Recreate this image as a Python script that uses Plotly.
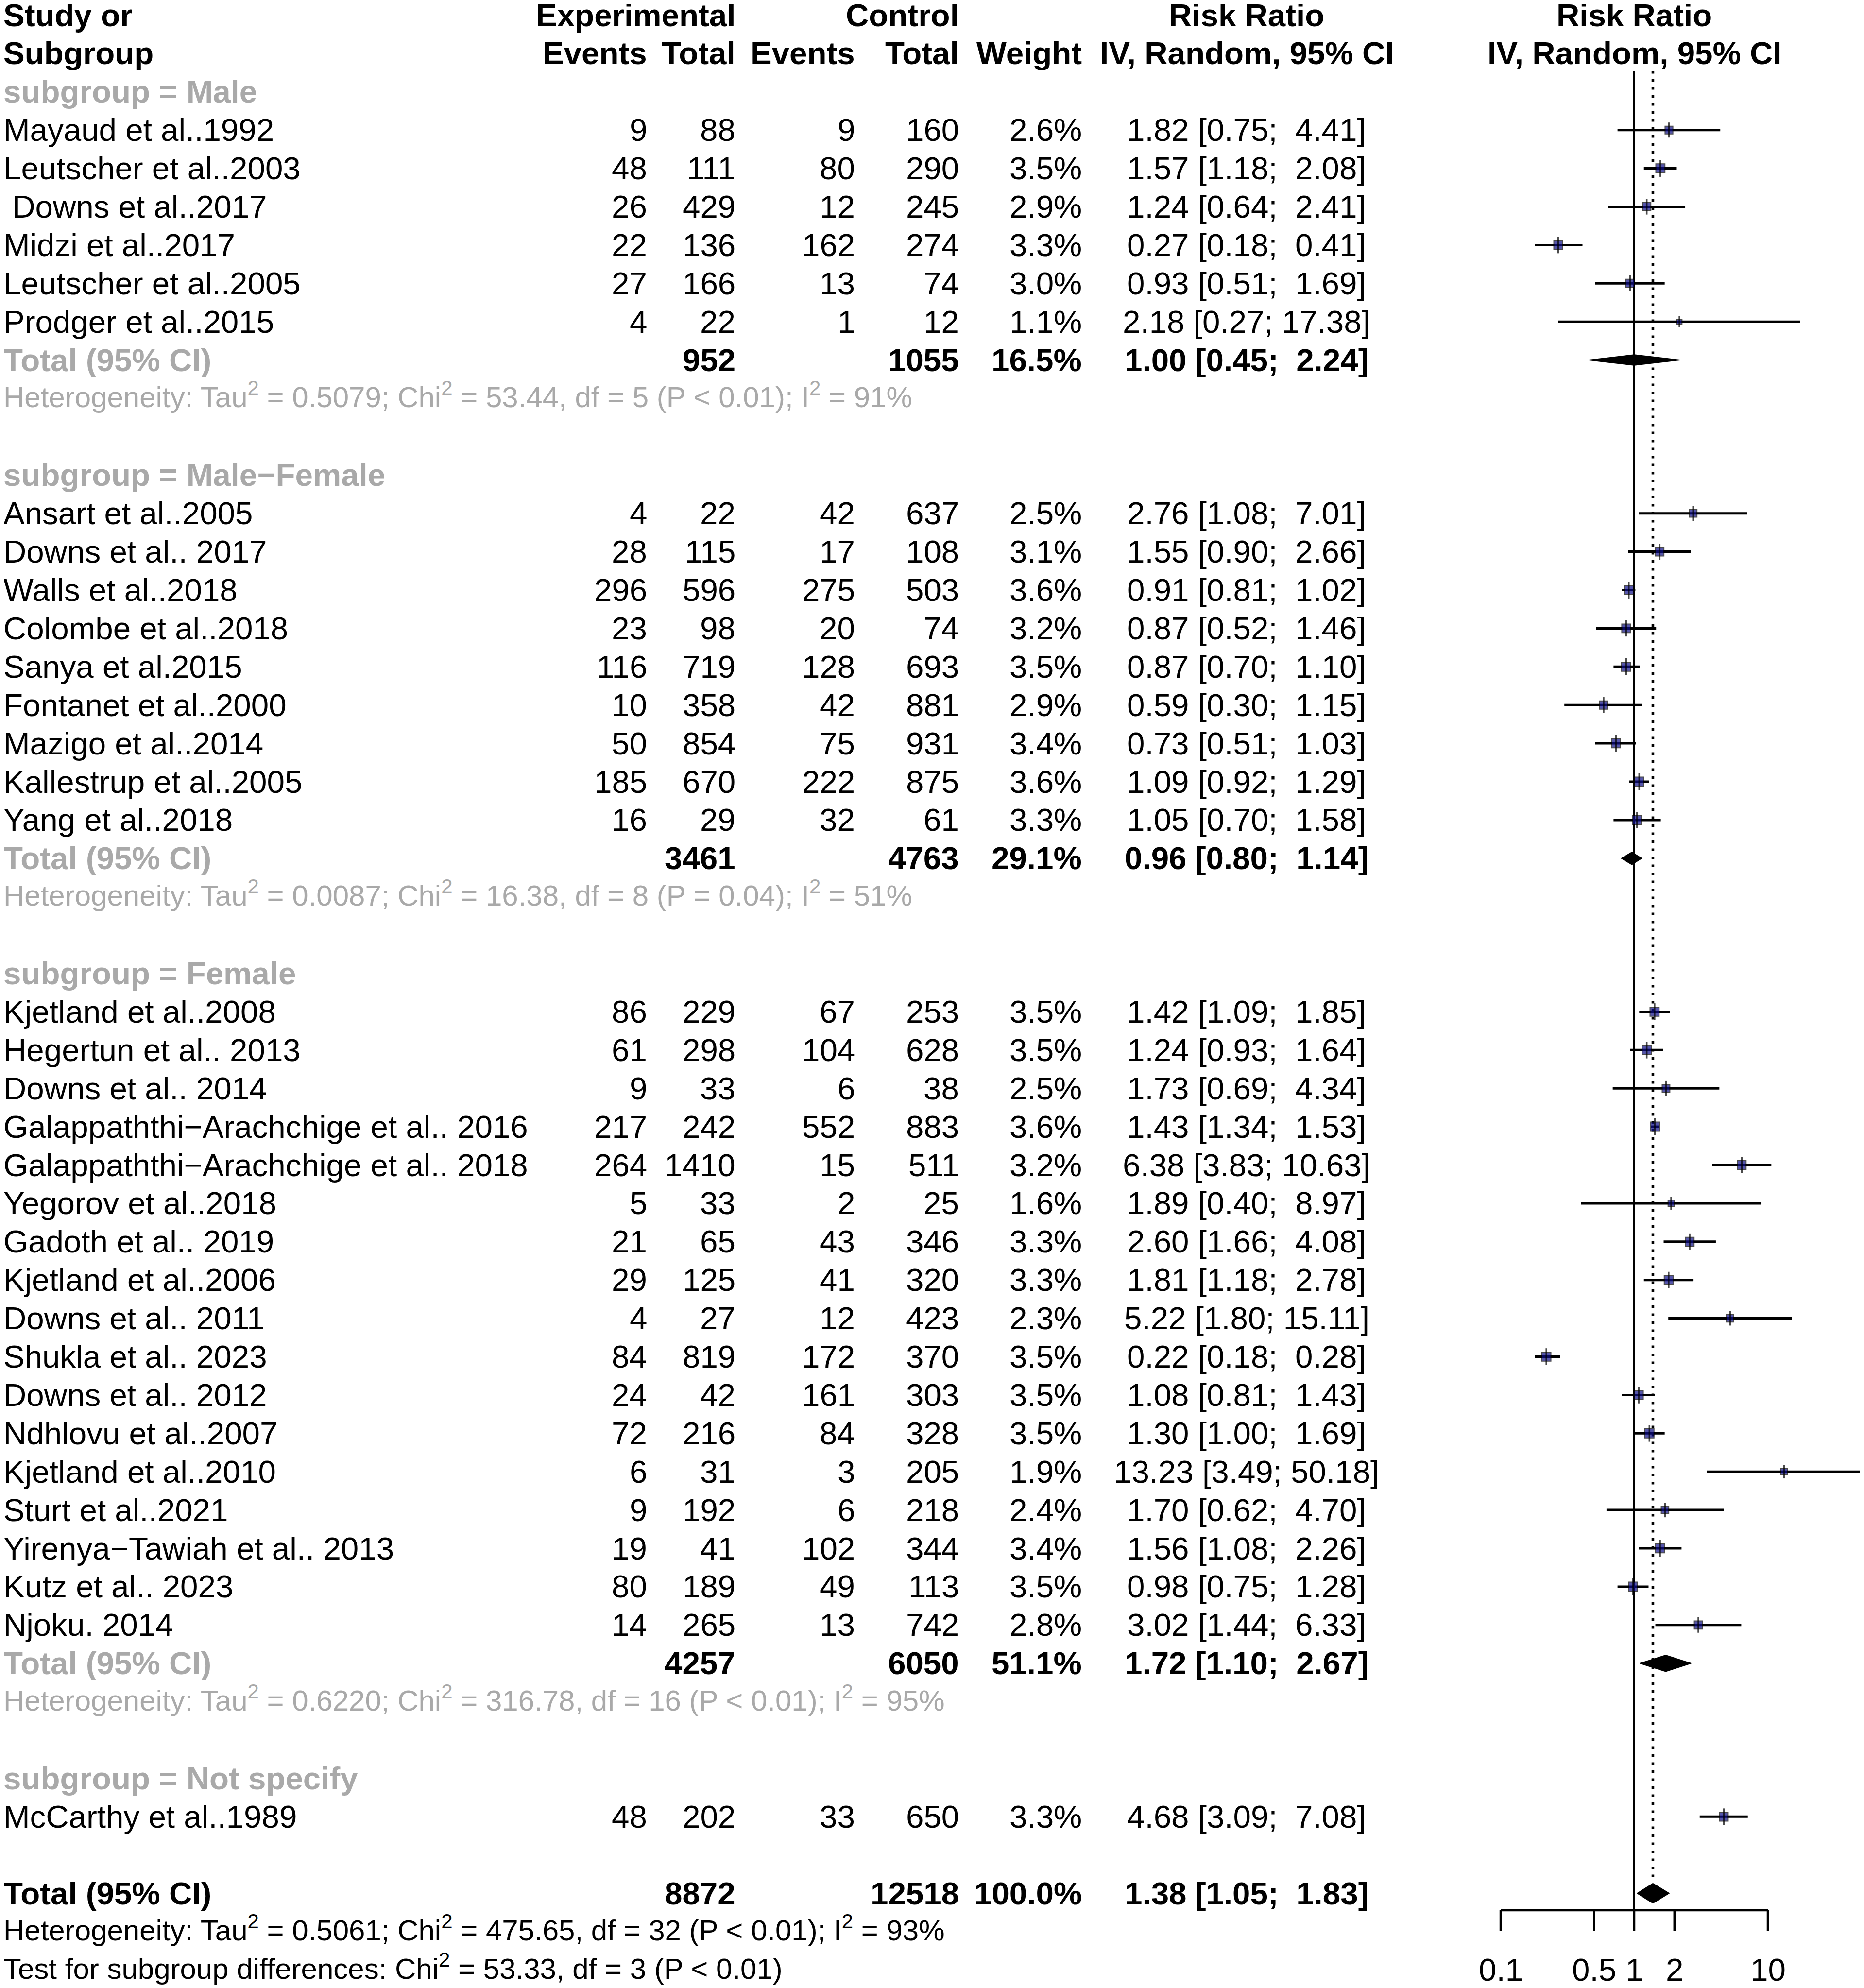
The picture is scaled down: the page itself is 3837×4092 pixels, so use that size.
import numpy as np
import plotly.graph_objects as go

# ---------------- data ----------------
male_study = ["Mayaud et al..1992", "Leutscher et al..2003", "\u00a0Downs et al..2017", "Midzi et al..2017",
              "Leutscher et al..2005", "Prodger et al..2015"]
male_ee = [9, 48, 26, 22, 27, 4]
male_et = [88, 111, 429, 136, 166, 22]
male_ce = [9, 80, 12, 162, 13, 1]
male_ct = [160, 290, 245, 274, 74, 12]
male_w = [2.6, 3.5, 2.9, 3.3, 3.0, 1.1]
male_rr = [1.82, 1.57, 1.24, 0.27, 0.93, 2.18]
male_lo = [0.75, 1.18, 0.64, 0.18, 0.51, 0.27]
male_hi = [4.41, 2.08, 2.41, 0.41, 1.69, 17.38]
male_total = [952, 1055, 16.5, 1.00, 0.45, 2.24]
male_het = ["0.5079", "53.44", 5, "P &lt; 0.01", 91]

mf_study = ["Ansart et al..2005", "Downs et al.. 2017", "Walls et al..2018", "Colombe et al..2018",
            "Sanya et al.2015", "Fontanet et al..2000", "Mazigo et al..2014", "Kallestrup et al..2005",
            "Yang et al..2018"]
mf_ee = [4, 28, 296, 23, 116, 10, 50, 185, 16]
mf_et = [22, 115, 596, 98, 719, 358, 854, 670, 29]
mf_ce = [42, 17, 275, 20, 128, 42, 75, 222, 32]
mf_ct = [637, 108, 503, 74, 693, 881, 931, 875, 61]
mf_w = [2.5, 3.1, 3.6, 3.2, 3.5, 2.9, 3.4, 3.6, 3.3]
mf_rr = [2.76, 1.55, 0.91, 0.87, 0.87, 0.59, 0.73, 1.09, 1.05]
mf_lo = [1.08, 0.90, 0.81, 0.52, 0.70, 0.30, 0.51, 0.92, 0.70]
mf_hi = [7.01, 2.66, 1.02, 1.46, 1.10, 1.15, 1.03, 1.29, 1.58]
mf_total = [3461, 4763, 29.1, 0.96, 0.80, 1.14]
mf_het = ["0.0087", "16.38", 8, "P = 0.04", 51]

fem_study = ["Kjetland et al..2008", "Hegertun et al.. 2013", "Downs et al.. 2014",
             "Galappaththi\u2212Arachchige et al.. 2016", "Galappaththi\u2212Arachchige et al.. 2018",
             "Yegorov et al..2018", "Gadoth et al.. 2019", "Kjetland et al..2006", "Downs et al.. 2011",
             "Shukla et al.. 2023", "Downs et al.. 2012", "Ndhlovu et al..2007", "Kjetland et al..2010",
             "Sturt et al..2021", "Yirenya\u2212Tawiah et al.. 2013", "Kutz et al.. 2023", "Njoku. 2014"]
fem_ee = [86, 61, 9, 217, 264, 5, 21, 29, 4, 84, 24, 72, 6, 9, 19, 80, 14]
fem_et = [229, 298, 33, 242, 1410, 33, 65, 125, 27, 819, 42, 216, 31, 192, 41, 189, 265]
fem_ce = [67, 104, 6, 552, 15, 2, 43, 41, 12, 172, 161, 84, 3, 6, 102, 49, 13]
fem_ct = [253, 628, 38, 883, 511, 25, 346, 320, 423, 370, 303, 328, 205, 218, 344, 113, 742]
fem_w = [3.5, 3.5, 2.5, 3.6, 3.2, 1.6, 3.3, 3.3, 2.3, 3.5, 3.5, 3.5, 1.9, 2.4, 3.4, 3.5, 2.8]
fem_rr = [1.42, 1.24, 1.73, 1.43, 6.38, 1.89, 2.60, 1.81, 5.22, 0.22, 1.08, 1.30, 13.23, 1.70, 1.56, 0.98, 3.02]
fem_lo = [1.09, 0.93, 0.69, 1.34, 3.83, 0.40, 1.66, 1.18, 1.80, 0.18, 0.81, 1.00, 3.49, 0.62, 1.08, 0.75, 1.44]
fem_hi = [1.85, 1.64, 4.34, 1.53, 10.63, 8.97, 4.08, 2.78, 15.11, 0.28, 1.43, 1.69, 50.18, 4.70, 2.26, 1.28, 6.33]
fem_total = [4257, 6050, 51.1, 1.72, 1.10, 2.67]
fem_het = ["0.6220", "316.78", 16, "P &lt; 0.01", 95]

ns_study = ["McCarthy et al..1989"]
ns_ee = [48]
ns_et = [202]
ns_ce = [33]
ns_ct = [650]
ns_w = [3.3]
ns_rr = [4.68]
ns_lo = [3.09]
ns_hi = [7.08]

overall_total = [8872, 12518, 100.0, 1.38, 1.05, 1.83]
overall_het = ["0.5061", "475.65", 32, "P &lt; 0.01", 93]
subgroup_test = ["53.33", 3, "P &lt; 0.01"]

tick_vals = [0.1, 0.5, 1, 2, 10]
tick_text = ["0.1", "0.5", "1", "2", "10"]

# ---------------- geometry ----------------
W, H = 3837, 4092
OFF = 8                       # default page body margin
ROW0, PITCH = 31.0 - OFF, 78.9
FONT = "Liberation Sans, Arial, Helvetica, sans-serif"
FS = 65.5
FS_SMALL = 60
GRAY = "#A9A9A9"
NAVY = "#0E0E88"

X_STUDY, X_EE, X_ET, X_CE, X_CT, X_W, X_RR = [v - OFF for v in (5, 1334, 1516, 1762, 1976, 2229, 2566)]
X_ONE = 3364 - OFF            # pixel of RR = 1
DEC = 275.0                   # pixels per decade

annots = []


def txt(xpx, r, s, anchor="right", bold=False, color="black", xref="paper", size=FS, ys=0):
    if bold:
        s = "<b>" + s + "</b>"
    annots.append(dict(x=(xpx / W if xref == "paper" else xpx), y=r, xref=xref, yref="y", text=s,
                       showarrow=False, xanchor=anchor, yanchor="middle", yshift=ys,
                       font=dict(family=FONT, size=size, color=color)))


def ci_str(rr, lo, hi):
    up = f"{hi:.2f}"
    pad = "\u00a0" if len(up) == 4 else ""
    return f"{rr:.2f} [{lo:.2f}; {pad}{up}]"


def het_str(h):
    tau, chi, df, p, i2 = h
    return (f"Heterogeneity: Tau<sup>2</sup> = {tau}; Chi<sup>2</sup> = {chi}, df = {df} ({p}); "
            f"I<sup>2</sup> = {i2}%")


# headers
txt(X_STUDY, 0, "Study or", "left", True)
txt(X_STUDY, 1, "Subgroup", "left", True)
txt(X_ET, 0, "Experimental", "right", True)
txt(X_CT, 0, "Control", "right", True)
txt(X_RR, 0, "Risk Ratio", "center", True)
txt(X_EE, 1, "Events", "right", True)
txt(X_ET, 1, "Total", "right", True)
txt(X_CE, 1, "Events", "right", True)
txt(X_CT, 1, "Total", "right", True)
txt(X_W, 1, "Weight", "right", True)
txt(X_RR, 1, "IV, Random, 95% CI", "center", True)
txt(0, 0, "Risk Ratio", "center", True, xref="x")
txt(0, 1, "IV, Random, 95% CI", "center", True, xref="x")

groups = [
    ("Male", male_study, male_ee, male_et, male_ce, male_ct, male_w, male_rr, male_lo, male_hi, male_total, male_het, 11),
    ("Male\u2212Female", mf_study, mf_ee, mf_et, mf_ce, mf_ct, mf_w, mf_rr, mf_lo, mf_hi, mf_total, mf_het, 13),
    ("Female", fem_study, fem_ee, fem_et, fem_ce, fem_ct, fem_w, fem_rr, fem_lo, fem_hi, fem_total, fem_het, 17),
    ("Not specify", ns_study, ns_ee, ns_et, ns_ce, ns_ct, ns_w, ns_rr, ns_lo, ns_hi, None, None, 0),
]

pts_x, pts_y, pts_s = [], [], []
ci_x, ci_y = [], []
diamonds = []

r = 2
for name, st, ee, et, ce, ct, w, rr, lo, hi, tot, het, dh in groups:
    txt(X_STUDY, r, "subgroup = " + name, "left", True, GRAY)
    r += 1
    for i in range(len(st)):
        txt(X_STUDY, r, st[i], "left")
        txt(X_EE, r, str(ee[i]))
        txt(X_ET, r, str(et[i]))
        txt(X_CE, r, str(ce[i]))
        txt(X_CT, r, str(ct[i]))
        txt(X_W, r, f"{w[i]:.1f}%")
        txt(X_RR, r, ci_str(rr[i], lo[i], hi[i]), "center")
        pts_x.append(rr[i]); pts_y.append(r); pts_s.append(19 * np.sqrt(w[i] / 3.6))
        ci_x += [lo[i], hi[i], None]; ci_y += [r, r, None]
        r += 1
    if tot is not None:
        txt(X_STUDY, r, "Total (95% CI)", "left", True, GRAY)
        txt(X_ET, r, str(tot[0]), "right", True)
        txt(X_CT, r, str(tot[1]), "right", True)
        txt(X_W, r, f"{tot[2]:.1f}%", "right", True)
        txt(X_RR, r, ci_str(tot[3], tot[4], tot[5]), "center", True)
        diamonds.append((tot[3], tot[4], tot[5], r, dh))
        r += 1
        txt(X_STUDY, r, het_str(het), "left", False, GRAY, size=FS_SMALL, ys=7)
        r += 1
    r += 1

# overall
txt(X_STUDY, r, "Total (95% CI)", "left", True)
txt(X_ET, r, str(overall_total[0]), "right", True)
txt(X_CT, r, str(overall_total[1]), "right", True)
txt(X_W, r, f"{overall_total[2]:.1f}%", "right", True)
txt(X_RR, r, ci_str(*overall_total[3:]), "center", True)
diamonds.append((overall_total[3], overall_total[4], overall_total[5], r, 20.5))
r += 1
txt(X_STUDY, r, het_str(overall_het), "left", size=FS_SMALL, ys=7)
r += 1
txt(X_STUDY, r, f"Test for subgroup differences: Chi<sup>2</sup> = {subgroup_test[0]}, df = {subgroup_test[1]} ({subgroup_test[2]})",
    "left", size=FS_SMALL, ys=7)
r_last = r

# axis rows (page pixel -> row units)
def prow(px):
    return (px - OFF - ROW0) / PITCH


r_axis = prow(3932)
r_tick = prow(3974)
r_top = prow(146)
r_dot_end = prow(3866)
for v, t in zip(tick_vals, tick_text):
    txt(np.log10(v), r_last, t, "center", xref="x")

fig = go.Figure()

# reference lines
fig.add_trace(go.Scatter(x=[1, 1], y=[r_top, r_axis], mode="lines",
                         line=dict(color="black", width=4), hoverinfo="skip"))
fig.add_trace(go.Scatter(x=[overall_total[3], overall_total[3]], y=[r_top, r_dot_end], mode="lines",
                         line=dict(color="black", width=5.5, dash="5.5px,11px"), hoverinfo="skip"))

# axis line and ticks
ax_x = [tick_vals[0], tick_vals[-1], None]
ax_y = [r_axis, r_axis, None]
for v in tick_vals:
    ax_x += [v, v, None]
    ax_y += [r_axis, r_tick, None]
fig.add_trace(go.Scatter(x=ax_x, y=ax_y, mode="lines", line=dict(color="black", width=4.5),
                         hoverinfo="skip"))

# CI lines
fig.add_trace(go.Scatter(x=ci_x, y=ci_y, mode="lines", line=dict(color="black", width=5),
                         hoverinfo="skip"))
# squares
fig.add_trace(go.Scatter(x=pts_x, y=pts_y, mode="markers",
                         marker=dict(symbol="square", size=pts_s, color=NAVY,
                                     line=dict(color="black", width=2)), hoverinfo="skip"))
fig.add_trace(go.Scatter(x=pts_x, y=pts_y, mode="markers",
                         marker=dict(symbol="line-ns", size=[s + 6 for s in pts_s], color="black",
                                     line=dict(color="black", width=3.5)), hoverinfo="skip"))

# diamonds
for est, lo, hi, rr_, hpx in diamonds:
    h = hpx / PITCH
    fig.add_trace(go.Scatter(x=[lo, est, hi, est, lo], y=[rr_, rr_ - h, rr_, rr_ + h, rr_],
                             mode="lines", fill="toself", fillcolor="black",
                             line=dict(color="black", width=1.5), hoverinfo="skip"))

DOM0 = 2990 - OFF
xl = -(X_ONE - DOM0) / DEC
xr = (W - X_ONE) / DEC
fig.update_layout(
    width=W, height=H, margin=dict(l=0, r=0, t=0, b=0),
    paper_bgcolor="white", plot_bgcolor="white", showlegend=False,
    xaxis=dict(type="log", domain=[DOM0 / W, 1], range=[xl, xr], visible=False, fixedrange=True),
    yaxis=dict(range=[(H - ROW0) / PITCH, -ROW0 / PITCH], domain=[0, 1], visible=False, fixedrange=True),
    annotations=annots,
)

fig.write_html("out.html")
